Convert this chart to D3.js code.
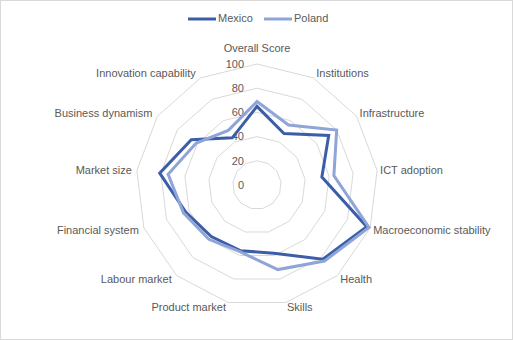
<!DOCTYPE html>
<html>
<head>
<meta charset="utf-8">
<script src="https://cdn.jsdelivr.net/npm/d3@7"></script>
<style>
  body { margin: 0; background: #fff; }
  text { font-family: "Liberation Sans", Arial, sans-serif; font-size: 11px; fill: #595959; }
</style>
</head>
<body>
<script>
var width = 513,
    height = 340;

var categories = ["Overall Score", "Institutions", "Infrastructure", "ICT adoption",
  "Macroeconomic stability", "Health", "Skills", "Product market", "Labour market",
  "Financial system", "Market size", "Business dynamism", "Innovation capability"];
var mexico = [65, 48, 72, 54, 97, 82, 58, 56, 57, 63, 81, 66, 44];
var poland = [69, 56, 80, 64, 99, 84, 72, 57, 60, 65, 74, 61, 51];
var ticks = [0, 20, 40, 60, 80, 100];
var seriesNames = ["Mexico", "Poland"];

var colors = ["#3c5ea8", "#8fa5d8"];
var cx = 257, cy = 185, R = 121;

var r = d3.scaleLinear().domain([0, 100]).range([0, R]);
var angle = d3.scaleLinear().domain([0, categories.length]).range([0, 2 * Math.PI]);

var svg = d3.select("body").append("svg")
    .attr("width", width)
    .attr("height", height);

// rand van het grafiekgebied
svg.append("rect")
    .attr("x", 0.5).attr("y", 0.5)
    .attr("width", width - 1).attr("height", height - 1)
    .attr("fill", "#fff")
    .attr("stroke", "#d9d9d9");

var g = svg.append("g").attr("transform", "translate(" + cx + "," + cy + ")");

var ring = d3.lineRadial()
    .angle(function(d, i) { return angle(i); })
    .radius(function(d) { return r(d); })
    .curve(d3.curveLinearClosed);

// rasterveelhoeken
g.selectAll(".grid")
    .data(ticks.slice(1))
  .enter().append("path")
    .attr("class", "grid")
    .attr("d", function(t) { return ring(categories.map(function() { return t; })); })
    .attr("fill", "none")
    .attr("stroke", "#d9d9d9")
    .attr("stroke-width", 1);

// schaal labels
g.selectAll(".tick")
    .data(ticks)
  .enter().append("text")
    .attr("class", "tick")
    .attr("x", -13)
    .attr("y", function(t) { return -r(t); })
    .attr("dy", "0.35em")
    .attr("text-anchor", "end")
    .text(function(t) { return t; });

// de series (Poland bovenop, zoals in Excel)
var series = [mexico, poland];
g.selectAll(".series")
    .data([0, 1])
  .enter().append("path")
    .attr("class", "series")
    .attr("d", function(i) { return ring(series[i]); })
    .attr("fill", "none")
    .attr("stroke", function(i) { return colors[i]; })
    .attr("stroke-width", 3)
    .attr("stroke-linejoin", "miter");

// categorie labels
g.selectAll(".cat")
    .data(categories)
  .enter().append("text")
    .attr("class", "cat")
    .attr("x", function(d, i) {
      var s = Math.sin(angle(i));
      var x = r(100) * s;
      if (Math.abs(s) < 0.05) return x;
      if (Math.abs(s) < 0.3) return x + (s > 0 ? 1 : -2);
      return x + (s > 0 ? 3 : -5);
    })
    .attr("y", function(d, i) {
      var c = Math.cos(angle(i));
      var y = -r(100) * c;
      if (c > 0.99) return y - 16;
      return y - c * 5;
    })
    .attr("dy", "0.35em")
    .attr("text-anchor", function(d, i) {
      var s = Math.sin(angle(i));
      if (Math.abs(s) < 0.05) return "middle";
      return s > 0 ? "start" : "end";
    })
    .text(function(d) { return d; });

// legenda
var legend = svg.selectAll(".legend")
    .data(seriesNames)
  .enter().append("g")
    .attr("class", "legend")
    .attr("transform", function(d, i) { return "translate(" + (188 + i * 76) + ",18)"; });

legend.append("line")
    .attr("x1", 0).attr("x2", 28)
    .attr("y1", 1).attr("y2", 1)
    .attr("stroke", function(d, i) { return colors[i]; })
    .attr("stroke-width", 3);

legend.append("text")
    .attr("x", 30)
    .attr("y", 0)
    .attr("dy", "0.35em")
    .text(function(d) { return d; });
</script>
</body>
</html>
